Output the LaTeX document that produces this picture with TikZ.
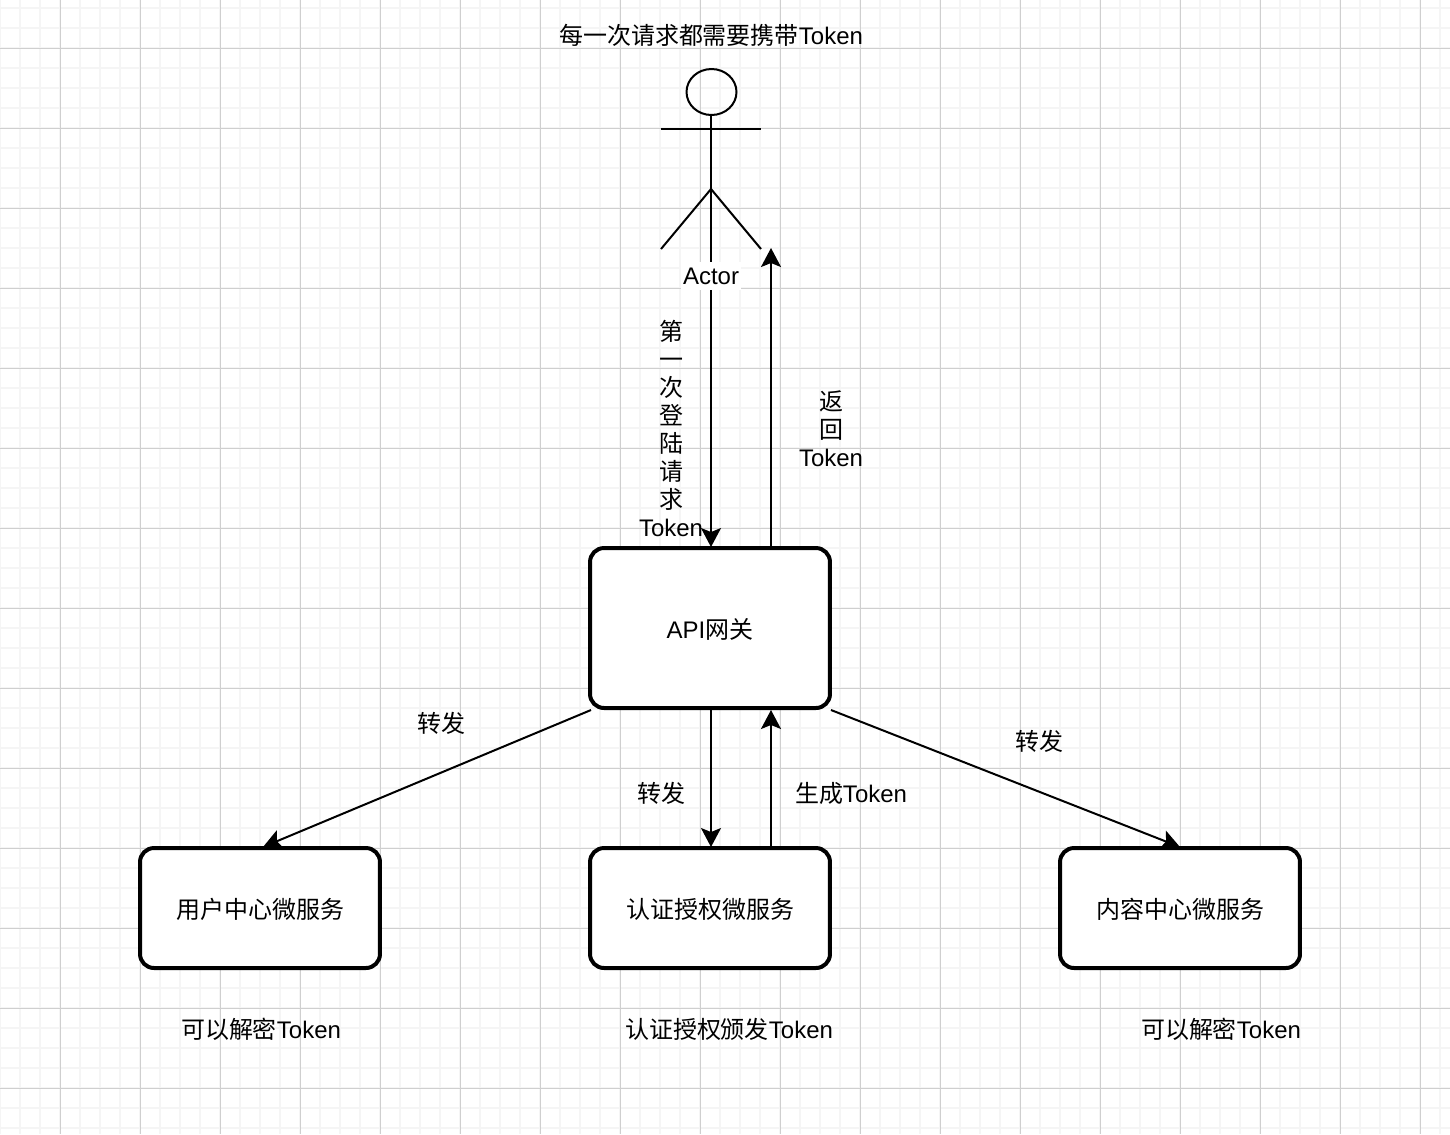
\documentclass[tikz,border=0pt]{standalone}
\usepackage{fontspec}
\setmainfont{Liberation Sans}
\newfontfamily\cjk{Noto Sans CJK SC}
\usepackage{xcolor}
\usetikzlibrary{arrows.meta}
\usetikzlibrary{shapes.geometric}
\definecolor{gridminor}{HTML}{F5F5F5}
\definecolor{gridmajor}{HTML}{CFCFCF}
\tikzset{
  service/.style={draw, fill=white, line width=0.08cm, rounded corners=0.28cm, minimum width=4.8cm, minimum height=2.4cm, inner sep=0pt},
  flow/.style={line width=0.04cm, -{Stealth[length=0.38cm, width=0.4cm, inset=0.08cm]}},
  limb/.style={line width=0.04cm},
  txt/.style={inner sep=0pt, align=center, font=\fontsize{13.65}{15.94}\selectfont}
}

\begin{document}
\begin{tikzpicture}[x=0.02cm, y=-0.02cm]
    \useasboundingbox (0,0) rectangle (1450,1134);
    \fill[white] (0,0) rectangle (1450,1134);
    % Background grid
    \foreach \x in {0,20,...,1440} \draw[gridminor, line width=0.04cm] (\x,0) -- (\x,1134);
    \foreach \y in {8,28,...,1128} \draw[gridminor, line width=0.04cm] (0,\y) -- (1450,\y);
    \foreach \x in {60,140,...,1420} \draw[gridmajor, line width=0.02cm] (\x,0) -- (\x,1134);
    \foreach \y in {48,128,...,1128} \draw[gridmajor, line width=0.02cm] (0,\y) -- (1450,\y);

    \node[service, minimum height=3.2cm] (gateway) at (710,628) {};
    \node[service] (user) at (260,908) {};
    \node[service] (auth) at (710,908) {};
    \node[service] (content) at (1180,908) {};

    % Stick figure
    \node[draw, ellipse, line width=0.04cm, inner sep=0pt, minimum width=1cm, minimum height=0.92cm] (head) at (711.5,92) {};
    \coordinate (hip) at (711,189);
    \coordinate (armL) at (661,129);
    \coordinate (armR) at (761,129);
    \coordinate (legL) at (661,249);
    \coordinate (legR) at (761,249);
    \coordinate (back) at (771,248);
    \draw[limb] (head.south -| hip) -- (hip);
    \draw[limb] (armL) -- (armR);
    \draw[limb] (legL) -- (hip) -- (legR);

    % Connectors
    \draw[flow] (hip) -- ([yshift=-0.02cm]hip |- gateway.north);
    \draw[flow] (back |- gateway.north) -- (back);
    \draw[flow] ([xshift=0.06cm]gateway.south west) -- ([xshift=0.06cm,yshift=-0.02cm]user.north);
    \draw[flow] ([xshift=-0.02cm]gateway.south east) -- ([yshift=-0.02cm]content.north);
    \draw[flow] ([xshift=0.02cm]gateway.south) -- ([xshift=0.02cm,yshift=-0.02cm]auth.north);
    \draw[flow] ([xshift=1.22cm]auth.north) -- ([xshift=1.22cm]gateway.south);

    \node[txt, fill=white, inner xsep=0.04cm, minimum height=0.56cm] (actor) at (711,276) {Actor};

    % Labels
    \node[txt] (title) at (711,35) {{\cjk 每一次请求都需要携带}Token};
    \node[txt] (login) at (671,428.5) {{\cjk 第}\\{\cjk 一}\\{\cjk 次}\\{\cjk 登}\\{\cjk 陆}\\{\cjk 请}\\{\cjk 求}\\Token};
    \node[txt] (reply) at (831,429) {{\cjk 返}\\{\cjk 回}\\Token};
    \node[txt] (fwdL) at (441,723) {{\cjk 转发}};
    \node[txt] (fwdM) at (661,793) {{\cjk 转发}};
    \node[txt] (fwdR) at (1039,741) {{\cjk 转发}};
    \node[txt] (make) at (851,793) {{\cjk 生成}Token};
    \node[txt] (apiName) at (710,629) {API{\cjk 网关}};
    \node[txt] (userName) at (260.5,909) {{\cjk 用户中心微服务}};
    \node[txt] (authName) at (710.5,909) {{\cjk 认证授权微服务}};
    \node[txt] (contentName) at (1180.5,909) {{\cjk 内容中心微服务}};
    \node[txt] (noteL) at (261,1029) {{\cjk 可以解密}Token};
    \node[txt] (noteM) at (729,1029) {{\cjk 认证授权颁发}Token};
    \node[txt] (noteR) at (1221,1029) {{\cjk 可以解密}Token};
\end{tikzpicture}
\end{document}
